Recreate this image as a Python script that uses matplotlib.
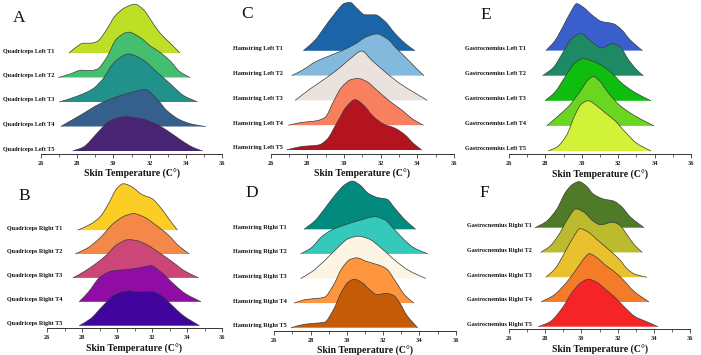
import numpy as np
import matplotlib
matplotlib.use("Agg")
import matplotlib.pyplot as plt
from matplotlib.path import Path
from matplotlib.patches import PathPatch
from matplotlib.transforms import blended_transform_factory

plt.rcParams['font.family'] = ['Liberation Serif', 'DejaVu Serif']

# ---------------- data ----------------
time_points = ["T1", "T2", "T3", "T4", "T5"]
xticks_major = [26, 28, 30, 32, 34, 36]
xticks_minor = [27, 29, 31, 33, 35]
xlabel_text = "Skin Temperature (C°)"

# Quadriceps Left (A)
QL_x = [
    [27.55, 27.95, 28.34, 28.75, 29.1, 29.63, 30.09, 30.64, 31.19, 31.65, 32.11, 32.57, 33.13, 33.68],
    [26.96, 27.6, 28.25, 28.75, 29.1, 29.63, 30.18, 30.83, 31.47, 32.02, 32.57, 33.13, 33.68, 34.23],
    [27.01, 27.97, 28.89, 29.44, 30.0, 30.83, 31.65, 32.39, 33.13, 33.86, 34.64],
    [27.09, 28.15, 29.26, 30.18, 31.10, 31.75, 32.39, 32.94, 33.68, 34.42, 35.1],
    [27.75, 28.34, 29.08, 29.81, 30.64, 31.47, 32.21, 32.94, 33.68, 34.42, 34.93],
]
QL_d = [
    [0, 0.24, 0.40, 0.40, 0.47, 0.96, 1.51, 1.85, 1.99, 1.78, 1.30, 0.82, 0.41, 0],
    [0, 0.14, 0.30, 0.28, 0.34, 0.82, 1.58, 1.85, 1.64, 1.30, 1.03, 0.68, 0.23, 0],
    [0, 0.23, 0.55, 0.96, 1.58, 1.96, 1.71, 1.23, 0.75, 0.27, 0],
    [0, 0.45, 0.93, 1.21, 1.41, 1.51, 1.14, 0.66, 0.27, 0.08, 0],
    [0, 0.16, 0.71, 1.23, 1.40, 1.33, 1.15, 0.85, 0.47, 0.14, 0],
]
# Quadriceps Right (B)
QR_x = [
    [27.75, 28.47, 29.04, 29.52, 29.99, 30.37, 30.85, 31.42, 31.99, 32.46, 32.94, 33.45],
    [27.62, 28.38, 29.04, 29.80, 30.47, 30.94, 31.51, 32.27, 32.94, 33.51, 34.14],
    [27.48, 28.09, 28.76, 29.42, 29.99, 30.66, 31.13, 31.70, 32.37, 33.13, 33.89, 34.67],
    [27.84, 28.38, 29.04, 29.71, 30.56, 31.32, 31.93, 32.56, 33.22, 33.89, 34.80],
    [27.84, 28.47, 29.23, 29.90, 30.66, 31.32, 31.99, 32.56, 33.13, 33.79, 34.71],
]
QR_d = [
    [0, 0.24, 0.56, 1.11, 1.74, 1.94, 1.81, 1.49, 1.32, 0.97, 0.49, 0],
    [0, 0.28, 0.68, 1.28, 1.60, 1.69, 1.56, 1.18, 0.79, 0.35, 0],
    [0, 0.25, 0.58, 0.97, 1.39, 1.60, 1.56, 1.39, 1.08, 0.69, 0.28, 0],
    [0, 0.42, 1.04, 1.29, 1.35, 1.43, 1.51, 1.22, 0.76, 0.35, 0],
    [0, 0.28, 0.86, 1.31, 1.46, 1.42, 1.43, 1.25, 0.86, 0.42, 0],
]
# Hamstring Left (C)
HL_x = [
    [27.78, 28.42, 28.96, 29.51, 30.05, 30.33, 30.69, 31.15, 31.69, 32.24, 32.78, 33.33, 33.87],
    [27.15, 27.78, 28.42, 29.15, 29.87, 30.60, 31.24, 31.78, 32.33, 32.87, 33.42, 33.96, 34.36],
    [27.33, 28.24, 29.15, 29.87, 30.42, 30.96, 31.51, 32.24, 33.05, 33.87, 34.55],
    [26.96, 27.69, 28.51, 28.96, 29.42, 29.87, 30.42, 30.78, 31.24, 31.78, 32.42, 33.15, 33.78, 34.33],
    [26.87, 27.69, 28.60, 29.05, 29.60, 30.15, 30.60, 31.05, 31.60, 32.15, 32.78, 33.33, 33.78, 34.24],
]
HL_d = [
    [0, 0.43, 0.97, 1.51, 1.92, 1.95, 1.72, 1.45, 1.45, 1.18, 0.70, 0.30, 0],
    [0, 0.24, 0.55, 0.78, 1.0, 1.27, 1.57, 1.68, 1.50, 1.09, 0.69, 0.28, 0],
    [0, 0.51, 0.97, 1.38, 1.73, 1.99, 1.62, 1.15, 0.68, 0.30, 0],
    [0, 0.11, 0.18, 0.31, 0.95, 1.53, 1.85, 1.88, 1.76, 1.42, 1.01, 0.61, 0.23, 0],
    [0, 0.14, 0.20, 0.41, 1.08, 1.76, 2.03, 1.82, 1.35, 1.05, 0.88, 0.61, 0.27, 0],
]
# Hamstring Right (D)
HR_x = [
    [27.64, 28.24, 28.79, 29.35, 29.90, 30.30, 30.72, 31.18, 31.74, 32.19, 32.65, 33.21, 33.79],
    [27.45, 28.06, 28.61, 29.16, 29.90, 30.63, 31.55, 32.10, 32.56, 33.11, 33.67, 34.46],
    [27.45, 28.06, 28.79, 29.53, 30.08, 30.63, 31.18, 31.92, 32.65, 33.38, 34.35],
    [27.08, 27.78, 28.33, 28.76, 29.25, 29.71, 30.17, 30.54, 31.09, 31.74, 32.19, 32.65, 33.21, 33.70],
    [26.92, 27.69, 28.24, 28.76, 29.25, 29.71, 30.08, 30.41, 30.82, 31.28, 31.64, 32.19, 32.56, 32.93, 33.30, 33.90],
]
HR_d = [
    [0, 0.35, 0.85, 1.39, 1.82, 1.96, 1.80, 1.46, 1.28, 1.23, 0.85, 0.38, 0],
    [0, 0.26, 0.70, 0.97, 1.18, 1.35, 1.51, 1.38, 1.04, 0.61, 0.26, 0],
    [0, 0.27, 0.74, 1.28, 1.62, 1.72, 1.62, 1.22, 0.74, 0.34, 0],
    [0, 0.15, 0.19, 0.24, 0.72, 1.39, 1.77, 1.84, 1.69, 1.55, 1.39, 0.92, 0.31, 0],
    [0, 0.14, 0.18, 0.22, 0.72, 1.46, 1.86, 1.97, 1.84, 1.53, 1.35, 1.39, 1.32, 0.99, 0.51, 0],
]
# Gastrocnemius Left (E)
GL_x = [
    [28.03, 28.53, 28.99, 29.41, 29.72, 30.08, 30.54, 31.09, 31.73, 32.19, 32.65, 33.33],
    [27.85, 28.44, 28.95, 29.44, 29.96, 30.45, 31.09, 31.70, 32.10, 32.56, 33.01, 33.38],
    [27.98, 28.53, 29.08, 29.63, 30.08, 30.63, 31.18, 31.64, 32.19, 32.83, 33.80],
    [28.07, 28.71, 29.35, 29.90, 30.36, 30.63, 31.00, 31.46, 32.10, 32.83, 33.56, 33.97],
    [28.16, 28.66, 29.17, 29.63, 29.99, 30.36, 30.82, 31.27, 31.82, 32.37, 33.01, 33.80],
]
GL_d = [
    [0, 0.40, 0.99, 1.56, 1.87, 1.73, 1.43, 1.16, 1.07, 0.83, 0.43, 0],
    [0, 0.33, 0.91, 1.47, 1.68, 1.41, 1.11, 1.28, 1.15, 0.64, 0.24, 0],
    [0, 0.35, 0.95, 1.51, 1.68, 1.57, 1.37, 1.11, 0.71, 0.37, 0],
    [0, 0.40, 0.84, 1.37, 1.84, 1.97, 1.77, 1.31, 0.81, 0.44, 0.15, 0],
    [0, 0.17, 0.64, 1.44, 1.88, 2.0, 1.80, 1.53, 1.21, 0.77, 0.31, 0],
]
# Gastrocnemius Right (F)
GR_x = [
    [27.44, 28.04, 28.63, 29.15, 29.55, 29.87, 30.25, 30.66, 31.21, 31.76, 32.22, 32.68, 33.46],
    [27.75, 28.27, 28.73, 29.22, 29.70, 30.11, 30.66, 31.06, 31.73, 32.13, 32.54, 32.96, 33.37],
    [28.04, 28.54, 29.09, 29.55, 29.92, 30.38, 30.94, 31.58, 32.13, 32.50, 32.96, 33.61],
    [27.77, 28.45, 29.19, 29.74, 30.20, 30.44, 30.84, 31.30, 31.86, 32.32, 32.87, 33.73],
    [27.62, 28.27, 28.91, 29.55, 30.01, 30.38, 30.84, 31.30, 31.86, 32.41, 32.96, 33.61, 34.23],
]
GR_d = [
    [0, 0.24, 0.74, 1.46, 1.77, 1.86, 1.70, 1.36, 1.16, 1.08, 0.85, 0.45, 0],
    [0, 0.26, 0.69, 1.32, 1.76, 1.64, 1.26, 1.12, 1.22, 1.09, 0.69, 0.28, 0],
    [0, 0.34, 1.01, 1.61, 1.96, 1.82, 1.47, 1.07, 0.70, 0.36, 0.12, 0],
    [0, 0.26, 0.80, 1.34, 1.80, 1.95, 1.80, 1.50, 1.20, 0.89, 0.45, 0],
    [0, 0.20, 0.72, 1.45, 1.80, 1.92, 1.80, 1.53, 1.18, 0.77, 0.41, 0.20, 0],
]

# ---------------- styles ----------------
QL_colors = ['#bddf26', '#44bf70', '#21918c', '#355f8d', '#482475']
QR_colors = ['#fccd25', '#f48849', '#cc4778', '#8f0da4', '#41049d']
HL_colors = ['#1b64a8', '#82b9dc', '#ebe2de', '#f8805f', '#b4141f']
HR_colors = ['#018a7d', '#35c9bb', '#fcf5e3', '#fd963f', '#c65b07']
GL_colors = ['#3a5fcd', '#1e8a63', '#0fbd0f', '#6ad620', '#d2f23a']
GR_colors = ['#4f7a28', '#bcbb2e', '#e9c12f', '#f47b27', '#f52527']

W, H = 701, 355
fig = plt.figure(figsize=(W / 100, H / 100), dpi=100)

panels = [
    dict(letter='A', name='Quadriceps Left', xs=QL_x, ds=QL_d, colors=QL_colors,
         x26=41, x36=222, axis_y=154, base5=151, sp=24.5, top=0, lab_x=3, let=(19, 18)),
    dict(letter='B', name='Quadriceps Right', xs=QR_x, ds=QR_d, colors=QR_colors,
         x26=47, x36=222, axis_y=328.3, base5=325.7, sp=23.9, top=178, lab_x=7, let=(24, 196)),
    dict(letter='C', name='Hamstring Left', xs=HL_x, ds=HL_d, colors=HL_colors,
         x26=270.7, x36=454, axis_y=154, base5=150, sp=24.8, top=0, lab_x=233, let=(247, 14)),
    dict(letter='D', name='Hamstring Right', xs=HR_x, ds=HR_d, colors=HR_colors,
         x26=274.3, x36=455.7, axis_y=330.7, base5=327.7, sp=24.6, top=178, lab_x=233, let=(252, 192.5)),
    dict(letter='E', name='Gastrocnemius Left', xs=GL_x, ds=GL_d, colors=GL_colors,
         x26=509, x36=691, axis_y=154.3, base5=151, sp=25.1, top=0, lab_x=465, let=(486, 15)),
    dict(letter='F', name='Gastrocnemius Right', xs=GR_x, ds=GR_d, colors=GR_colors,
         x26=509, x36=690, axis_y=329.3, base5=326.7, sp=24.75, top=178, lab_x=467, let=(484, 193)),
]


def hermite_verts(x, y):
    x = np.asarray(x, float)
    y = np.asarray(y, float)
    n = len(x)
    h = np.diff(x)
    d = np.diff(y) / h
    m = np.zeros(n)
    m[0] = d[0]
    m[-1] = d[-1]
    for k in range(1, n - 1):
        if d[k - 1] * d[k] <= 0:
            m[k] = 0.0
        else:
            w1 = 2 * h[k] + h[k - 1]
            w2 = h[k] + 2 * h[k - 1]
            m[k] = (w1 + w2) / (w1 / d[k - 1] + w2 / d[k])
    verts = [(x[0], y[0])]
    codes = [Path.MOVETO]
    for k in range(n - 1):
        verts += [(x[k] + h[k] / 3, y[k] + m[k] * h[k] / 3),
                  (x[k + 1] - h[k] / 3, y[k + 1] - m[k + 1] * h[k] / 3),
                  (x[k + 1], y[k + 1])]
        codes += [Path.CURVE4] * 3
    return verts, codes


for p in panels:
    left = p['x26'] / W
    width = (p['x36'] - p['x26']) / W
    height_px = p['axis_y'] - p['top']
    ax = fig.add_axes([left, (H - p['axis_y']) / H, width, height_px / H])
    y0 = -(p['axis_y'] - p['base5']) / p['sp']
    ax.set_xlim(26, 36)
    ax.set_ylim(y0, y0 + height_px / p['sp'])
    ax.patch.set_alpha(0)
    for s in ('left', 'top', 'right'):
        ax.spines[s].set_visible(False)
    ax.spines['bottom'].set_linewidth(0.7)
    ax.spines['bottom'].set_color('#333333')
    ax.set_yticks([])
    ax.set_xticks(xticks_major)
    ax.set_xticks(xticks_minor, minor=True)
    ax.tick_params(axis='x', which='major', direction='out', length=3, width=0.6,
                   labelsize=4.6, pad=2, colors='#333333', labelcolor='#222222')
    ax.tick_params(axis='x', which='minor', direction='out', length=1.8, width=0.5, colors='#333333')
    for t in ax.get_xticklabels():
        t.set_fontweight('bold')
    ax.set_xlabel(xlabel_text, fontsize=7, fontweight='bold', labelpad=2.5, color='#111111')

    trans = blended_transform_factory(fig.transFigure, ax.transData)
    for i, tp in enumerate(time_points):
        off = 4 - i
        xv = p['xs'][i]
        dv = [v + off for v in p['ds'][i]]
        verts, codes = hermite_verts(xv, dv)
        fill_path = Path(verts + [(xv[0], off)], codes + [Path.CLOSEPOLY])
        ax.add_patch(PathPatch(fill_path, facecolor=p['colors'][i], edgecolor='none',
                               zorder=2 + 2 * i, clip_on=False))
        ax.add_patch(PathPatch(Path(verts, codes), facecolor='none', edgecolor='#3a3a3a',
                               linewidth=0.5, zorder=3 + 2 * i, clip_on=False))
        ax.text(p['lab_x'] / W, off + 2.0 / p['sp'], f"{p['name']} {tp}", transform=trans,
                ha='left', va='center', fontsize=4.4, fontweight='bold', color='#111111',
                clip_on=False)

    fig.text(p['let'][0] / W, 1 - p['let'][1] / H, p['letter'], ha='center', va='center',
             fontsize=12.5, color='#111111')

fig.savefig('out.png', dpi=100)
